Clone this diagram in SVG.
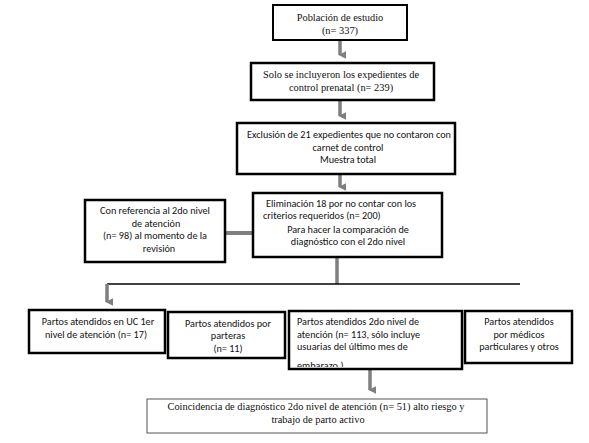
<svg xmlns="http://www.w3.org/2000/svg" width="589" height="443" viewBox="0 0 589 443">
<defs>
<marker id="ah" viewBox="0 0 10 10" refX="5" refY="8" markerWidth="2.2" markerHeight="2.2" orient="auto-start-reverse" markerUnits="strokeWidth">
<path d="M0,0 L10,0 L5,10 z" fill="#7f7f7f"/>
</marker>
</defs>
<style>
.box{fill:#fff;stroke:#000;stroke-width:2.5}
.thin{fill:#fff;stroke:#555;stroke-width:1}
.serif{font-family:"Liberation Serif","Times New Roman",serif;font-size:10.4px;fill:#111}
.sans{font-family:"Carlito","Lato","Liberation Sans",sans-serif;font-size:10.2px;fill:#111}
.c{text-anchor:middle}
.gray{stroke:#7f7f7f;stroke-width:3.5;fill:none}
.blk{stroke:#000;stroke-width:1.5;fill:none}
</style>
<rect width="589" height="443" fill="#fff"/>
<g id="connectors">
<line class="gray" x1="340" y1="41" x2="340" y2="55" marker-end="url(#ah)"/>
<line class="gray" x1="340" y1="101" x2="340" y2="116" marker-end="url(#ah)"/>
<line class="gray" x1="340" y1="175" x2="340" y2="187" marker-end="url(#ah)"/>
<line class="gray" x1="226" y1="233" x2="252" y2="233" style="stroke-width:4"/>
<line class="gray" x1="337" y1="258" x2="337" y2="284"/>
<line class="blk" x1="107" y1="284" x2="520" y2="284"/>
<line class="gray" x1="107" y1="284" x2="107" y2="302" marker-end="url(#ah)"/>
<line class="gray" x1="370" y1="370" x2="370" y2="390" marker-end="url(#ah)"/>
</g>
<g id="n1">
<rect class="box" x="273" y="5" width="134" height="35" style="stroke-width:2"/>
<text class="serif c" x="340" y="21">Población de estudio</text>
<text class="serif c" x="340" y="34">(n= 337)</text>
</g>
<g id="n2">
<rect class="box" x="251" y="63" width="183" height="37"/>
<text class="serif c" x="341" y="78">Solo se incluyeron los expedientes de</text>
<text class="serif c" x="341" y="91">control prenatal (n= 239)</text>
</g>
<g id="n3">
<rect class="box" x="237" y="123" width="218" height="51"/>
<text class="sans c" x="349" y="138">Exclusión de 21 expedientes que no contaron con</text>
<text class="sans c" x="348" y="151">carnet de control</text>
<text class="sans c" x="348" y="163">Muestra total</text>
</g>
<g id="n4">
<rect class="box" x="253" y="193" width="189" height="64"/>
<text class="sans" x="266" y="207">Eliminación 18 por no contar con los</text>
<text class="sans" x="263" y="219">criterios requeridos (n= 200)</text>
<text class="sans c" x="348" y="233">Para hacer la comparación de</text>
<text class="sans c" x="348" y="245">diagnóstico con el 2do nivel</text>
</g>
<g id="n5">
<rect class="box" x="85" y="200" width="140" height="62"/>
<text class="sans c" x="155" y="214">Con referencia al 2do nivel</text>
<text class="sans c" x="156" y="227">de atención</text>
<text class="sans c" x="155" y="239">(n= 98) al momento de la</text>
<text class="sans c" x="159" y="252">revisión</text>
</g>
<g id="n6">
<rect class="box" x="29" y="310" width="136" height="43"/>
<text class="sans c" x="98" y="325">Partos atendidos en UC 1er</text>
<text class="sans c" x="96" y="338">nivel de atención (n= 17)</text>
</g>
<g id="n7">
<rect class="box" x="168" y="312" width="117" height="46"/>
<text class="sans c" x="228" y="327">Partos atendidos por</text>
<text class="sans c" x="228" y="339">parteras</text>
<text class="sans c" x="228" y="352">(n= 11)</text>
</g>
<g id="n8">
<svg x="289" y="311" width="173" height="56" overflow="hidden">
<text class="sans" x="8" y="14"> Partos atendidos 2do nivel de</text>
<text class="sans" x="8" y="27">atención (n= 113, sólo incluye</text>
<text class="sans" x="8" y="39">usuarias del último mes de</text>
<text class="sans" x="8" y="57.5">embarazo.)</text>
</svg>
<rect class="box" x="289" y="311" width="173" height="58" style="fill:none"/>
</g>
<g id="n9">
<rect class="box" x="465" y="311" width="107" height="52"/>
<text class="sans c" x="519" y="325">Partos atendidos</text>
<text class="sans c" x="519" y="338">por médicos</text>
<text class="sans c" x="519" y="350">particulares y otros</text>
</g>
<g id="n10">
<rect class="thin" x="147" y="399" width="340" height="34"/>
<text class="serif c" x="316" y="410">Coincidencia de diagnóstico 2do nivel de atención (n= 51) alto riesgo y</text>
<text class="serif c" x="318" y="423">trabajo de parto activo</text>
</g>
</svg>
